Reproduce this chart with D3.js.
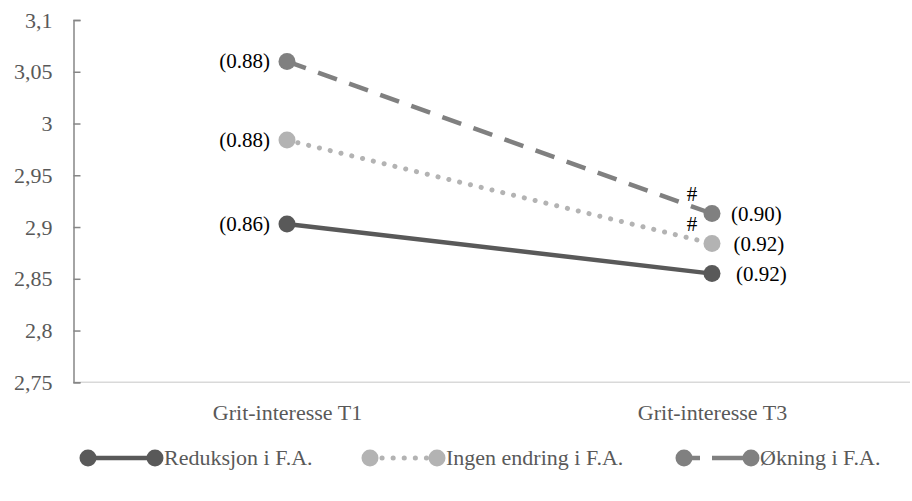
<!DOCTYPE html>
<html>
<head>
<meta charset="utf-8">
<script src="https://cdn.jsdelivr.net/npm/d3@7"></script>
<style>
  body { margin: 0; background: #fff; }
  svg { display: block; }
</style>
</head>
<body>
<svg id="chart" width="912" height="501"></svg>
<script>
// ---- data ----
const categories = ["Grit-interesse T1", "Grit-interesse T3"];
const seriesNames = ["Reduksjon i F.A.", "Ingen endring i F.A.", "Økning i F.A."];
const reduksjon = [2.903, 2.855];
const ingenEndring = [2.984, 2.884];
const okning = [3.060, 2.913];
const sdLabels = [["(0.86)", "(0.92)"], ["(0.88)", "(0.92)"], ["(0.88)", "(0.90)"]];
const sigMarks = [["", ""], ["", "#"], ["", "#"]];
const yTicks = [2.75, 2.8, 2.85, 2.9, 2.95, 3, 3.05, 3.1];

const seriesValues = [reduksjon, ingenEndring, okning];
const colors = ["#595959", "#b3b3b3", "#808080"];
const dashes = [null, "0.1,11", "20,13"];
const FONT = "'Liberation Serif', 'Times New Roman', Tinos, 'DejaVu Serif', serif";

const svg = d3.select("#chart");
const x = d3.scalePoint().domain(categories).range([287, 712]);
const y = d3.scaleLinear().domain([2.75, 3.1]).range([382.3, 20]);
const fmt = v => String(v).replace(".", ",");

// horizontal axis line
svg.append("line").attr("x1", 73).attr("x2", 910).attr("y1", y(2.75)).attr("y2", y(2.75))
  .attr("stroke", "#d9d9d9").attr("stroke-width", 1.5);

// y axis
const yAxis = d3.axisLeft(y).tickValues(yTicks).tickFormat(fmt).tickSizeInner(-7).tickSizeOuter(-7).tickPadding(21);
const gy = svg.append("g").attr("transform", "translate(73.5,0)").call(yAxis)
  .attr("font-family", FONT).attr("font-size", 22);
gy.select(".domain").attr("stroke", "#868686").attr("stroke-width", 1.5);
gy.selectAll(".tick line").attr("stroke", "#868686").attr("stroke-width", 1.5);
gy.selectAll(".tick text").attr("fill", "#595959");

// x category labels
const gx = svg.append("g").attr("transform", `translate(0,${y(2.75)})`)
  .call(d3.axisBottom(x).tickSize(0).tickPadding(22))
  .attr("font-family", FONT).attr("font-size", 22);
gx.select(".domain").remove();
gx.selectAll(".tick text").attr("fill", "#595959");

const line = d3.line().x((d, i) => x(categories[i])).y(d => y(d));

seriesValues.forEach((vals, s) => {
  svg.append("path").datum(vals).attr("d", line)
    .attr("fill", "none").attr("stroke", colors[s]).attr("stroke-width", s === 1 ? 5 : 4.5)
    .attr("stroke-linecap", s === 1 ? "round" : "butt")
    .attr("stroke-dasharray", dashes[s]);
  svg.selectAll(null).data(vals).enter().append("circle")
    .attr("cx", (d, i) => x(categories[i])).attr("cy", d => y(d)).attr("r", 8.5)
    .attr("fill", colors[s]);
  // sd labels
  svg.selectAll(null).data(vals).enter().append("text")
    .attr("x", (d, i) => i === 0 ? x(categories[i]) - 17 : x(categories[i]) + 19 + (2 - s) * 2.5)
    .attr("y", d => y(d)).attr("dy", "0.33em")
    .attr("text-anchor", (d, i) => i === 0 ? "end" : "start")
    .attr("fill", "#000").attr("font-family", FONT).attr("font-size", 21)
    .text((d, i) => sdLabels[s][i]);
  // significance marks
  svg.selectAll(null).data(vals).enter().append("text")
    .attr("x", (d, i) => x(categories[i]) - 20)
    .attr("y", d => y(d) - 13)
    .attr("text-anchor", "middle").attr("fill", "#000")
    .attr("font-family", FONT).attr("font-size", 21)
    .text((d, i) => sigMarks[s][i]);
});

// legend
const legendX = [88, 370, 684];
const legY = 458;
seriesNames.forEach((name, s) => {
  const g = svg.append("g").attr("transform", `translate(${legendX[s]},${legY})`);
  g.append("line").attr("x1", 0).attr("x2", 67).attr("y1", 0).attr("y2", 0)
    .attr("stroke", colors[s]).attr("stroke-width", s === 1 ? 5 : 4.5)
    .attr("stroke-linecap", s === 1 ? "round" : "butt")
    .attr("stroke-dasharray", s === 1 ? "0.1,11" : (s === 2 ? "16,12,40" : null))
    .attr("stroke-dashoffset", s === 1 ? -12 : 0);
  g.append("circle").attr("cx", 0).attr("cy", 0).attr("r", 8.5).attr("fill", colors[s]);
  g.append("circle").attr("cx", 67).attr("cy", 0).attr("r", 8.5).attr("fill", colors[s]);
  g.append("text").attr("x", 76).attr("y", 0).attr("dy", "0.33em")
    .attr("fill", "#595959").attr("font-family", FONT).attr("font-size", 22).text(name);
});
</script>
</body>
</html>
